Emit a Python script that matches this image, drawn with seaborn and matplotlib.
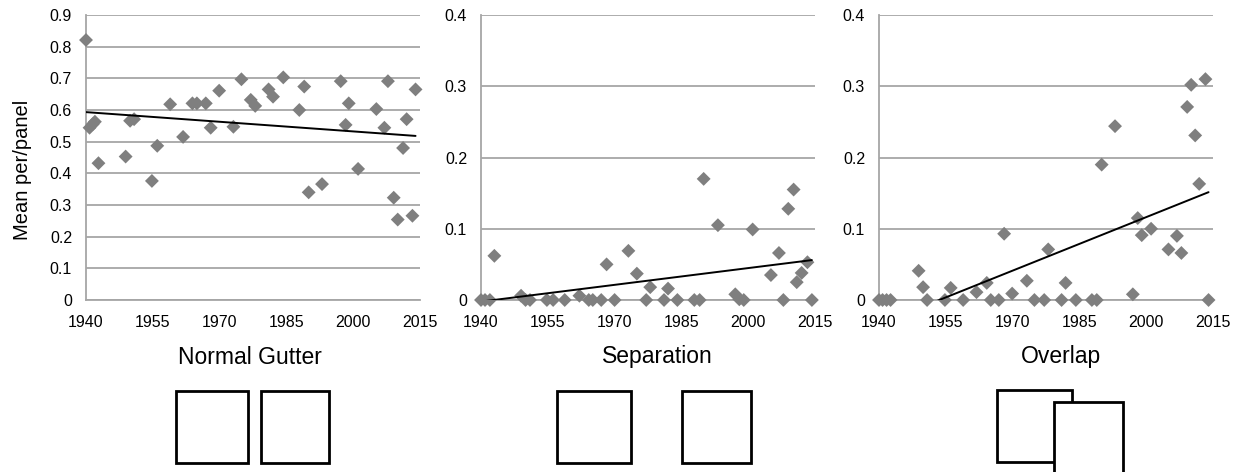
import numpy as np
import pandas as pd
import matplotlib
matplotlib.use("Agg")
import matplotlib.pyplot as plt
from matplotlib.patches import Rectangle
import seaborn as sns

# ---------------- data ----------------
panel_titles = ["Normal Gutter", "Separation", "Overlap"]
x_ticks = [1940, 1955, 1970, 1985, 2000, 2015]

years_gutter = [1940, 1940.8, 1941.5, 1942, 1942.8, 1948.9, 1949.9, 1950.8, 1954.8, 1956,
                1958.9, 1961.8, 1963.9, 1964.9, 1966.9, 1968, 1969.9, 1973.1, 1974.9, 1977,
                1978, 1981, 1982, 1984.3, 1987.9, 1989, 1990, 1993, 1997.2, 1998.3,
                1999, 2001.1, 2005.2, 2007, 2007.8, 2009.1, 2010, 2011.2, 2012, 2013.3, 2014]
vals_gutter = [0.821, 0.544, 0.555, 0.563, 0.432, 0.453, 0.566, 0.571, 0.376, 0.487,
               0.618, 0.515, 0.621, 0.621, 0.621, 0.544, 0.661, 0.547, 0.697, 0.632,
               0.613, 0.665, 0.642, 0.703, 0.600, 0.674, 0.340, 0.366, 0.691, 0.553,
               0.621, 0.414, 0.603, 0.544, 0.691, 0.323, 0.254, 0.480, 0.571, 0.266, 0.665]

years_sep = [1940, 1940.9, 1942, 1943, 1949, 1950, 1951, 1954.8, 1956.2, 1958.8,
             1962.1, 1964.2, 1965.1, 1967, 1968.2, 1970, 1973.1, 1975, 1977.1, 1978,
             1981.1, 1982, 1984.1, 1987.9, 1989.1, 1990, 1993.2, 1997.1, 1998, 1999,
             2001, 2005.1, 2006.9, 2007.9, 2009, 2010.2, 2010.9, 2012, 2013.3, 2014.3]
vals_sep = [0, 0, 0, 0.062, 0.006, 0, 0, 0, 0, 0,
            0.006, 0, 0, 0, 0.050, 0, 0.069, 0.037, 0, 0.018,
            0, 0.016, 0, 0, 0, 0.170, 0.105, 0.008, 0.001, 0,
            0.099, 0.035, 0.066, 0, 0.128, 0.155, 0.025, 0.038, 0.053, 0]

years_over = [1940, 1940.8, 1941.7, 1942.6, 1948.9, 1949.9, 1950.8, 1954.8, 1956.1, 1958.9,
              1961.9, 1964.2, 1965.1, 1966.9, 1968.1, 1969.9, 1973.2, 1974.9, 1977.1, 1978,
              1981, 1981.9, 1984.2, 1987.8, 1988.9, 1990, 1993, 1997, 1998.1, 1999,
              2001.1, 2005, 2006.9, 2007.9, 2009.2, 2010.1, 2011, 2011.9, 2013.3, 2014]
vals_over = [0, 0, 0, 0, 0.041, 0.018, 0, 0, 0.017, 0,
             0.011, 0.024, 0, 0, 0.093, 0.009, 0.027, 0, 0, 0.071,
             0, 0.024, 0, 0, 0, 0.190, 0.244, 0.008, 0.115, 0.091,
             0.100, 0.071, 0.090, 0.066, 0.271, 0.302, 0.231, 0.163, 0.310, 0]

y_ticks_gutter = [0, 0.1, 0.2, 0.3, 0.4, 0.5, 0.6, 0.7, 0.8, 0.9]
y_ticks_small = [0, 0.1, 0.2, 0.3, 0.4]
y_label = "Mean per/panel"

# ---------------- style ----------------
sns.set_theme(style="white")
plt.rcParams["font.family"] = ["Liberation Sans", "DejaVu Sans"]
plt.rcParams["text.color"] = "black"

W, H = 1239, 472
fig = plt.figure(figsize=(W / 100, H / 100), dpi=100)

grey = "#a6a6a6"
marker_col = "#7f7f7f"

def px_axes(left, top, right, bottom):
    return fig.add_axes([left / W, 1 - bottom / H, (right - left) / W, (bottom - top) / H])

panels = [
    (years_gutter, vals_gutter, y_ticks_gutter, 86),
    (years_sep, vals_sep, y_ticks_small, 481),
    (years_over, vals_over, y_ticks_small, 879),
]

for (yrs, vals, yt, left) in panels:
    ax = px_axes(left, 15, left + 334, 300)
    df = pd.DataFrame({"year": yrs, "value": vals})
    sns.scatterplot(data=df, x="year", y="value", ax=ax, marker="D", color=marker_col,
                    s=50, edgecolor="none", clip_on=False, zorder=3)
    # linear trend line
    coef = np.polyfit(df["year"], df["value"], 1)
    xs = np.array([df["year"].min(), df["year"].max()])
    ax.plot(xs, np.polyval(coef, xs), color="black", lw=1.4, zorder=4)
    ax.set_xlim(1940, 2015)
    ax.set_ylim(0, yt[-1])
    ax.set_xticks(x_ticks)
    ax.set_xticklabels([str(t) for t in x_ticks], fontsize=11.5)
    ax.set_yticks(yt)
    ax.set_yticklabels(["0"] + [f"{t:.1f}" for t in yt[1:]], fontsize=11.5)
    ax.yaxis.grid(True, color=grey, lw=1.3)
    ax.xaxis.grid(False)
    ax.set_axisbelow(True)
    for s in ["top", "right"]:
        ax.spines[s].set_visible(False)
    for s in ["left", "bottom"]:
        ax.spines[s].set_color(grey)
        ax.spines[s].set_linewidth(1.3)
    ax.tick_params(axis="both", which="major", direction="out", length=4, width=1.2,
                   color=grey, labelcolor="black")
    ax.tick_params(axis="x", pad=7)
    ax.tick_params(axis="y", pad=6)
    ax.set_xlabel("")
    ax.set_ylabel("")

fig.text(23 / W, 1 - 170 / H, y_label, rotation=90, ha="center", va="center",
         fontsize=14.5, color="black")

# panel titles
for title, cx in zip(panel_titles, [250, 657, 1061]):
    fig.text(cx / W, 1 - 357 / H, title, ha="center", va="center", fontsize=16.5,
             color="black")

# icons (pixel boxes: left, top, right, bottom)
def box(l, t, r, b, z=1):
    fig.add_artist(Rectangle((l / W, 1 - b / H), (r - l) / W, (b - t) / H,
                             transform=fig.transFigure, facecolor="white",
                             edgecolor="black", lw=2, zorder=z))

box(176, 391, 248, 463)
box(261, 391, 329, 463)
box(557, 391, 631, 463)
box(682, 391, 751, 463)
box(997, 390, 1072, 462, z=1)
box(1054, 402, 1123, 480, z=2)

fig.savefig("out.png", dpi=100)
